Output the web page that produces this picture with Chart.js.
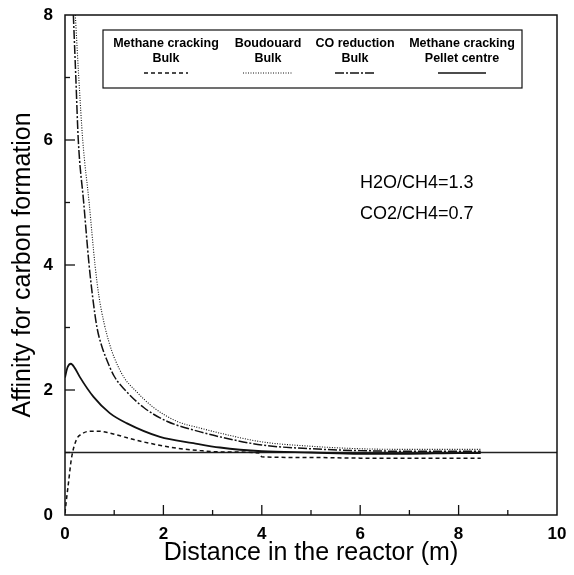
<!DOCTYPE html>
<html><head><meta charset="utf-8">
<script src="https://cdn.jsdelivr.net/npm/chart.js@4/dist/chart.umd.min.js"></script>
<style>html,body{margin:0;padding:0;background:#fff}</style>
</head><body>
<canvas id="c" width="574" height="575"></canvas>
<script>
// ---- data ----
const crackBulkX = [0, 0.03, 0.07, 0.13, 0.23, 0.35, 0.5, 0.7, 0.91, 1.2, 1.59, 2.27, 2.75, 3.15, 3.95, 4.0, 5, 6, 7, 8, 8.45];
const crackBulkY = [0.03, 0.25, 0.51, 0.9, 1.2, 1.3, 1.34, 1.34, 1.31, 1.25, 1.17, 1.07, 1.03, 1.01, 0.99, 0.93, 0.92, 0.91, 0.91, 0.91, 0.91];

const boudX = [0.21, 0.28, 0.36, 0.49, 0.61, 0.69, 0.8, 0.9, 1.0, 1.2, 1.42, 1.8, 2.27, 2.75, 3.15, 4, 5, 6, 7, 8, 8.45];
const boudY = [8.0, 7.0, 6.0, 5.0, 4.0, 3.5, 3.05, 2.75, 2.52, 2.2, 2.0, 1.72, 1.5, 1.39, 1.31, 1.17, 1.1, 1.06, 1.05, 1.05, 1.05];

const coRedX = [0.17, 0.22, 0.27, 0.38, 0.49, 0.56, 0.65, 0.74, 0.84, 1.0, 1.22, 1.6, 2.07, 2.75, 3.15, 4, 5, 6, 7, 8, 8.45];
const coRedY = [8.0, 7.0, 6.0, 5.0, 4.0, 3.5, 3.0, 2.72, 2.5, 2.22, 2.0, 1.72, 1.5, 1.33, 1.25, 1.12, 1.06, 1.03, 1.02, 1.02, 1.02];

const pelletX = [0, 0.05, 0.12, 0.2, 0.3, 0.58, 0.91, 1.25, 1.93, 2.61, 3.15, 4, 5, 6, 7, 8, 8.45];
const pelletY = [2.2, 2.36, 2.42, 2.35, 2.21, 1.89, 1.63, 1.47, 1.25, 1.15, 1.08, 1.02, 1.0, 0.98, 0.98, 0.99, 0.99];

const unityX = [0, 10];
const unityY = [1, 1];

const xTicks = [0, 2, 4, 6, 8, 10];
const yTicks = [0, 2, 4, 6, 8];

const legendCols = [
  ["Methane cracking", "Bulk"],
  ["Boudouard", "Bulk"],
  ["CO reduction", "Bulk"],
  ["Methane cracking", "Pellet centre"]
];
const noteLines = ["H2O/CH4=1.3", "CO2/CH4=0.7"];
const xTitle = "Distance in the reactor (m)";
const yTitle = "Affinity for carbon formation";

// ---- styles ----
const FONT = "'Liberation Sans', Arial, sans-serif";
const dashStyles = [[4, 3], [1, 1.5], [9, 2, 2, 2], []];
const widths = [1.5, 1.1, 1.5, 1.8];

function pts(xs, ys) { return xs.map((x, i) => ({x: x, y: ys[i]})); }

const series = [
  {label: "Methane cracking Bulk", data: pts(crackBulkX, crackBulkY)},
  {label: "Boudouard Bulk", data: pts(boudX, boudY)},
  {label: "CO reduction Bulk", data: pts(coRedX, coRedY)},
  {label: "Methane cracking Pellet centre", data: pts(pelletX, pelletY)}
];

const datasets = series.map((s, i) => ({
  label: s.label, data: s.data, borderColor: '#111', borderWidth: widths[i],
  borderDash: dashStyles[i], pointRadius: 0, fill: false,
  cubicInterpolationMode: 'monotone'
}));
datasets.push({label: 'unity', data: pts(unityX, unityY), borderColor: '#222', borderWidth: 1.3, pointRadius: 0, fill: false});

const decor = {
  id: 'decor',
  afterDatasetsDraw(chart) {
    const ctx = chart.ctx, a = chart.chartArea;
    const xs = chart.scales.x, ys = chart.scales.y;
    ctx.save();
    ctx.strokeStyle = '#111';
    ctx.lineWidth = 1.5;
    ctx.strokeRect(a.left, a.top, a.right - a.left, a.bottom - a.top);
    ctx.lineWidth = 1.3;
    for (let v = 1; v < 10; v++) {
      const px = xs.getPixelForValue(v);
      const len = v % 2 === 0 ? 10 : 5;
      ctx.beginPath(); ctx.moveTo(px, a.bottom); ctx.lineTo(px, a.bottom - len); ctx.stroke();
    }
    for (let v = 1; v < 8; v++) {
      const py = ys.getPixelForValue(v);
      const len = v % 2 === 0 ? 10 : 5;
      ctx.beginPath(); ctx.moveTo(a.left, py); ctx.lineTo(a.left + len, py); ctx.stroke();
    }
    // legend box
    ctx.lineWidth = 1.2;
    ctx.strokeRect(103, 30, 419, 58);
    const centers = [166, 268, 355, 462];
    const sampleW = [44, 50, 40, 48];
    ctx.fillStyle = '#000';
    ctx.textAlign = 'center';
    ctx.textBaseline = 'middle';
    ctx.font = "bold 12.5px " + FONT;
    legendCols.forEach((c, i) => {
      ctx.fillText(c[0], centers[i], 44);
      ctx.fillText(c[1], centers[i], 59);
      ctx.beginPath();
      ctx.setLineDash(dashStyles[i]);
      ctx.lineWidth = i === 1 ? 1 : 1.3;
      ctx.moveTo(centers[i] - sampleW[i] / 2, 73);
      ctx.lineTo(centers[i] + sampleW[i] / 2, 73);
      ctx.stroke();
    });
    ctx.setLineDash([]);
    // note
    ctx.textAlign = 'left';
    ctx.font = "18px " + FONT;
    ctx.fillText(noteLines[0], 360, 183);
    ctx.fillText(noteLines[1], 360, 214);
    ctx.restore();
  }
};

new Chart(document.getElementById('c'), {
  type: 'line',
  data: {datasets: datasets},
  options: {
    responsive: false, animation: false, devicePixelRatio: 1,
    layout: {padding: {top: 15, right: 17, left: 0, bottom: 0}},
    plugins: {legend: {display: false}, tooltip: {enabled: false}},
    scales: {
      x: {
        type: 'linear', min: 0, max: 10,
        afterBuildTicks(s) { s.ticks = xTicks.map(v => ({value: v})); },
        afterFit(s) { s.height = 60; s.paddingLeft = 0; s.paddingRight = 0; },
        grid: {display: false, drawTicks: false},
        border: {display: false},
        ticks: {color: '#000', font: {family: FONT, size: 17, weight: 'bold'}, padding: 9, maxRotation: 0, autoSkip: false},
        title: {display: true, text: xTitle, color: '#000', font: {family: FONT, size: 25}, padding: {top: 0, bottom: 7}}
      },
      y: {
        type: 'linear', min: 0, max: 8,
        afterBuildTicks(s) { s.ticks = yTicks.map(v => ({value: v})); },
        afterFit(s) { s.width = 65; s.paddingTop = 0; s.paddingBottom = 0; },
        grid: {display: false, drawTicks: false},
        border: {display: false},
        ticks: {color: '#000', font: {family: FONT, size: 17, weight: 'bold'}, padding: 12},
        title: {display: true, text: yTitle, color: '#000', font: {family: FONT, size: 25}, padding: {top: 8, bottom: 0}}
      }
    }
  },
  plugins: [decor]
});
</script>
</body></html>
